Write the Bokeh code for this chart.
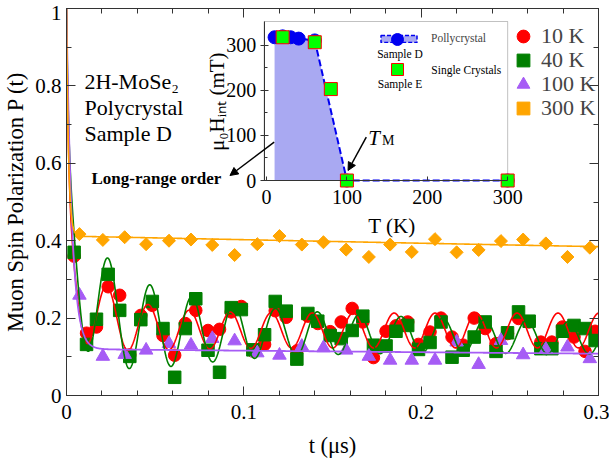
import numpy as np
from bokeh.plotting import figure
from bokeh.models import (Range1d, LinearAxis, FixedTicker, Legend, LegendItem, Label,
                          Arrow, NormalHead, BoxAnnotation)
from bokeh.embed import file_html
from bokeh.resources import INLINE

# ---------------- data: main panel ----------------
# time bins shared by the 10 K and 40 K spectra (us)
t_fine = [0.0043, 0.0113, 0.0169, 0.0235, 0.0300, 0.0357, 0.0419, 0.0484, 0.0544, 0.0610,
          0.0670, 0.0729, 0.0798, 0.0863, 0.0929, 0.0986, 0.1051, 0.1117, 0.1177, 0.1239,
          0.1299, 0.1361, 0.1417, 0.1487, 0.1549, 0.1611, 0.1671, 0.1731, 0.1802, 0.1858,
          0.1924, 0.1985, 0.2050, 0.2112, 0.2174, 0.2237, 0.2299, 0.2361, 0.2422, 0.2487,
          0.2549, 0.2609, 0.2675, 0.2737, 0.2797, 0.2862, 0.2924, 0.2981]
p_10K = [0.360, 0.161, 0.177, 0.281, 0.259, 0.105, 0.207, 0.233, 0.155, 0.104,
         0.186, 0.220, 0.168, 0.171, 0.216, 0.230, 0.115, 0.132, 0.219, 0.202,
         0.115, 0.205, 0.186, 0.165, 0.190, 0.225, 0.190, 0.098, 0.166, 0.180,
         0.190, 0.132, 0.164, 0.200, 0.151, 0.130, 0.200, 0.173, 0.134, 0.160,
         0.199, 0.190, 0.138, 0.138, 0.177, 0.151, 0.114, 0.166]
p_40K = [0.370, 0.132, 0.197, 0.313, 0.220, 0.101, 0.196, 0.243, 0.173, 0.047,
         0.173, 0.250, 0.117, 0.060, 0.227, 0.222, 0.118, 0.157, 0.243, 0.218,
         0.094, 0.212, 0.192, 0.155, 0.147, 0.168, 0.205, 0.130, 0.128, 0.166,
         0.181, 0.119, 0.137, 0.190, 0.099, 0.117, 0.151, 0.190, 0.114, 0.162,
         0.216, 0.192, 0.121, 0.121, 0.166, 0.181, 0.173, 0.142]
# coarser time bins shared by the 100 K and 300 K spectra (us)
t_coarse = [0.0073, 0.0205, 0.0328, 0.0449, 0.0578, 0.0702, 0.0822, 0.0948, 0.1076, 0.1201,
            0.1327, 0.1449, 0.1577, 0.1705, 0.1825, 0.1947, 0.2078, 0.2200, 0.2324, 0.2450,
            0.2575, 0.2703, 0.2825, 0.2951]
p_100K = [0.259, 0.101, 0.106, 0.117, 0.134, 0.130, 0.147, 0.141, 0.110, 0.104,
          0.127, 0.123, 0.117, 0.101, 0.091, 0.091, 0.091, 0.138, 0.080, 0.142,
          0.105, 0.119, 0.125, 0.095]
p_300K = [0.417, 0.402, 0.409, 0.391, 0.400, 0.403, 0.389, 0.363, 0.391, 0.412,
          0.390, 0.396, 0.377, 0.358, 0.390, 0.371, 0.404, 0.370, 0.376, 0.399,
          0.403, 0.393, 0.358, 0.382]

# fit-curve parameters (oscillating fits for 10 K / 40 K, relaxations for 100 K / 300 K)
fit_10K = dict(nu=43.3, m_inf=0.168, m_rate=0.0, dm=0.14, tau_m=0.016, a_inf=0.045, da=0.09, tau_a=0.025, tau_fast=0.0012)
fit_40K = dict(nu=42.4, m_inf=0.172, m_rate=0.5, dm=0.217, tau_m=0.0154, a_inf=0.040, da=0.14, tau_a=0.065, tau_fast=0.0012)
fit_100K = dict(a_fast=0.88, tau_fast=0.0031, a_slow=0.12, rate=0.35)
fit_300K = dict(a_fast=0.588, tau_fast=0.00116, a_slow=0.412, rate=0.23)

series_labels = ["10 K", "40 K", "100 K", "300 K"]

# ---------------- data: inset (internal field vs temperature) ----------------
T_poly = [10, 20, 30, 40, 60, 100, 300]
H_poly = [318, 320, 318, 315, 311, 0, 0]
T_singleE = [20, 60, 80, 100, 300]
H_singleE = [318, 307, 203, 0, 0]

# ---------------- ticks ----------------
x_ticks = [0, 0.1, 0.2, 0.3]
x_tick_labels = ["0", "0.1", "0.2", "0.3"]
y_ticks = [0, 0.2, 0.4, 0.6, 0.8, 1.0]
y_tick_labels = ["0", "0.2", "0.4", "0.6", "0.8", "1"]
inset_ticks = [0, 100, 200, 300]
inset_tick_labels = ["0", "100", "200", "300"]

# ---------------- styling / layout constants ----------------
FONT = "Liberation Serif"
RED, GREEN, PURPLE, ORANGE = "#ff0000", "#007f00", "#a65cf5", "#ffa500"
BLUE, FILL_BLUE, LIME = "#0000f0", "#a9a9f2", "#00ff00"
AX = "#333333"

W, H = 609, 461
FL, FR, FT, FB = 65, 598, 8, 395            # main frame in pixels
IL, IR, IT, IB = 263, 507, 21, 180           # inset box in pixels
T_MIN, T_MAX, H_MIN, H_MAX = -3, 300, 0, 353  # inset data extent
TOP_LABEL_NUDGE = 0.012                      # keeps the "1" label inside the canvas

p = figure(width=W, height=H, x_range=Range1d(0, 0.3), y_range=Range1d(0, 1),
           output_backend="svg", toolbar_location=None,
           min_border_left=FL, min_border_right=W - FR, min_border_top=FT, min_border_bottom=H - FB)
p.grid.visible = False
p.outline_line_color = AX
p.background_fill_color = "white"
p.border_fill_color = "white"


def style_axis(ax, labels=True, size="21px"):
    ax.axis_line_color = AX
    ax.major_tick_line_color = AX
    ax.minor_tick_line_color = AX
    ax.major_tick_in, ax.major_tick_out = 9, 0
    ax.minor_tick_in, ax.minor_tick_out = 5, 0
    ax.major_label_text_font = FONT
    if labels:
        ax.major_label_text_color = "black"
        ax.major_label_text_font_size = size
    else:
        ax.major_label_text_color = None
        ax.major_label_standoff = 0
    ax.axis_label_text_font = FONT
    ax.axis_label_text_font_size = "22.5px"
    ax.axis_label_text_font_style = "normal"
    ax.axis_label_text_color = "black"


x_minor = [round(0.02 * i, 2) for i in range(16)]
y_minor = [round(0.1 * i, 1) for i in range(11)]
xa = p.below[0]
ya = p.left[0]
xa.ticker = FixedTicker(ticks=x_ticks, minor_ticks=x_minor)
xa.major_label_overrides = dict(zip(x_ticks, x_tick_labels))
style_axis(xa)
xa.axis_label = "t (\u03bcs)"
xa.major_label_standoff = 9
xa.axis_label_standoff = 11

# left axis: labels only (the top "1" is nudged just below the frame edge so it stays on the canvas)
label_pos = y_ticks[:-1] + [y_ticks[-1] - TOP_LABEL_NUDGE]
ya.ticker = FixedTicker(ticks=label_pos, minor_ticks=[])
ya.major_label_overrides = dict(zip(label_pos, y_tick_labels))
style_axis(ya)
ya.major_tick_in = 0
ya.minor_tick_in = 0
ya.axis_label = "Muon Spin Polarization P (t)"
ya.major_label_standoff = 5
ya.axis_label_standoff = 4
# left tick marks drawn by a zero-size axis sitting on the frame edge
ya_ticks = LinearAxis(fixed_location=0, ticker=FixedTicker(ticks=y_ticks, minor_ticks=y_minor))
style_axis(ya_ticks, labels=False)
ya_ticks.axis_line_color = None
p.add_layout(ya_ticks, "left")

top = LinearAxis(ticker=FixedTicker(ticks=x_ticks, minor_ticks=x_minor))
style_axis(top, labels=False)
p.add_layout(top, "above")
right = LinearAxis(ticker=FixedTicker(ticks=y_ticks, minor_ticks=y_minor))
style_axis(right, labels=False)
p.add_layout(right, "right")

# ---------------- main data ----------------
r10 = p.scatter(t_fine, p_10K, marker="circle", size=12.5, fill_color=RED, line_color=RED)
r40 = p.scatter(t_fine, p_40K, marker="square", size=12.5, fill_color=GREEN, line_color=GREEN)
r100 = p.scatter(t_coarse, p_100K, marker="triangle", size=13.5, fill_color=PURPLE, line_color=PURPLE)
r300 = p.scatter(t_coarse, p_300K, marker="square", angle=np.pi / 4, size=9.2,
                 fill_color=ORANGE, line_color=ORANGE)

t_fit = np.linspace(0, 0.3, 1501)


def osc_fit(t, nu, m_inf, m_rate, dm, tau_m, a_inf, da, tau_a, tau_fast):
    fast = 1.0 - (m_inf + dm) - (a_inf + da)
    mean = m_inf * np.exp(-m_rate * t) + dm * np.exp(-t / tau_m)
    amp = a_inf + da * np.exp(-t / tau_a)
    return fast * np.exp(-t / tau_fast) + mean + amp * np.cos(2 * np.pi * nu * t)


def relax_fit(t, a_fast, tau_fast, a_slow, rate):
    return a_fast * np.exp(-t / tau_fast) + a_slow * np.exp(-rate * t)


p.line(t_fit, osc_fit(t_fit, **fit_10K), line_color=RED, line_width=1.6)
p.line(t_fit, osc_fit(t_fit, **fit_40K), line_color=GREEN, line_width=1.6)
p.line(t_fit, relax_fit(t_fit, **fit_100K), line_color=PURPLE, line_width=1.8)
p.line(t_fit, relax_fit(t_fit, **fit_300K), line_color=ORANGE, line_width=1.6)

# legend: two interleaved legends so the rows are 24 px apart with 13 px markers
LEG = dict(glyph_width=32, glyph_height=32, spacing=16, label_standoff=2, padding=0, margin=0,
           border_line_color=None, background_fill_alpha=0, label_text_font=FONT,
           label_text_font_size="22px")
main_r = [r10, r40, r100, r300]
leg1 = Legend(items=[LegendItem(label=series_labels[i], renderers=[main_r[i]]) for i in (0, 2)],
              location=(441, 295), **LEG)
leg2 = Legend(items=[LegendItem(label=series_labels[i], renderers=[main_r[i]]) for i in (1, 3)],
              location=(441, 271), **LEG)
p.add_layout(leg1)
p.add_layout(leg2)

# text block
for txt, yy in zip(["2H-MoSe\u2082", "Polycrystal", "Sample D"], [0.811, 0.745, 0.676]):
    p.add_layout(Label(x=0.0101, y=yy, text=txt, text_font=FONT, text_font_size="22px",
                       text_color="black", text_baseline="alphabetic"))
p.add_layout(Label(x=0.0141, y=0.562, text="Long-range order", text_font=FONT, text_font_size="17px",
                   text_font_style="bold", text_color="black", text_baseline="alphabetic"))

# ---------------- inset (drawn in its own ranges inside the main frame) ----------------
sx = (IR - IL) / (T_MAX - T_MIN)
sy = (IB - IT) / (H_MAX - H_MIN)
p.extra_x_ranges = {"ix": Range1d(T_MIN - (IL - FL) / sx, T_MAX + (FR - IR) / sx),
                    "off": Range1d(1000, 2000)}
p.extra_y_ranges = {"iy": Range1d(H_MIN - (FB - IB) / sy, H_MAX + (IT - FT) / sy)}
IN = dict(x_range_name="ix", y_range_name="iy")

p.add_layout(BoxAnnotation(left=T_MIN, right=T_MAX, bottom=H_MIN, top=H_MAX, fill_color="white",
                           fill_alpha=1, line_color=AX, line_width=1, level="underlay", **IN))

T_fill = [T for T in T_poly if T <= 100]
H_fill = [h for T, h in zip(T_poly, H_poly) if T <= 100]
p.varea(x=T_fill, y1=0, y2=H_fill, fill_color=FILL_BLUE, fill_alpha=1, **IN)
p.line(T_poly, H_poly, line_color=BLUE, line_width=2, line_dash="7 3", **IN)
r_poly = p.scatter(T_poly, H_poly, marker="circle", size=13, fill_color=BLUE, line_color=BLUE, **IN)
r_E = p.scatter(T_singleE, H_singleE, marker="square", size=13, fill_color=LIME, line_color=RED,
                line_width=1, **IN)
# legend proxy for the filled-area key (same polygon, mapped outside the frame so only the key shows)
key_box = p.patch(x=T_fill + [T_fill[-1], T_fill[0]], y=H_fill + [0, 0], fill_color=FILL_BLUE,
                  line_color=BLUE, line_width=1.5, line_dash="4 2", x_range_name="off", y_range_name="iy")

iyax = LinearAxis(fixed_location=T_MIN, bounds=(H_MIN, H_MAX),
                  ticker=FixedTicker(ticks=inset_ticks, minor_ticks=[50, 150, 250]), **IN)
style_axis(iyax, size="20px")
iyax.major_tick_in, iyax.major_tick_out = 4, 4
iyax.minor_tick_in, iyax.minor_tick_out = 3, 0
iyax.major_label_overrides = dict(zip(inset_ticks, inset_tick_labels))
iyax.major_label_standoff = 4
p.add_layout(iyax, "left")

ixax = LinearAxis(fixed_location=H_MIN, bounds=(T_MIN, T_MAX),
                  ticker=FixedTicker(ticks=inset_ticks, minor_ticks=[]), **IN)
style_axis(ixax, size="20px")
ixax.major_tick_in, ixax.major_tick_out = 4, 0
ixax.major_label_overrides = dict(zip(inset_ticks, inset_tick_labels))
ixax.major_label_standoff = 9
p.add_layout(ixax, "below")

p.add_layout(Label(x=156, y=-102, text="T (K)", text_font=FONT, text_font_size="21px",
                   text_color="black", text_align="center", text_baseline="middle", **IN))
p.add_layout(Label(x=-62, y=175, text="\u03bc\u2080H\u1d62\u2099\u209c (mT)", angle=np.pi / 2,
                   text_font=FONT, text_font_size="21px", text_color="black",
                   text_align="center", text_baseline="middle", **IN))

# inset legend
leg_box = Legend(items=[LegendItem(label="Pollycrystal", renderers=[key_box])],
                 location=(375 - FL, FB - 44), glyph_width=45, glyph_height=9, label_standoff=10,
                 padding=0, margin=0, border_line_color=None, background_fill_alpha=0,
                 label_text_font=FONT, label_text_font_size="11.5px", label_height=9)
p.add_layout(leg_box)
leg_mark = Legend(items=[LegendItem(label=" ", renderers=[r_poly]), LegendItem(label=" ", renderers=[r_E])],
                  location=(381 - FL, 311), glyph_width=30, glyph_height=30, spacing=0, label_standoff=0,
                  padding=0, margin=0, border_line_color=None, background_fill_alpha=0,
                  label_text_font=FONT, label_text_font_size="11.5px")
p.add_layout(leg_mark)
for txt, xx, yy, al in [("Sample D", 166, 280, "center"), ("Sample E", 166, 215, "center"),
                        ("Single Crystals", 205, 246, "left")]:
    p.add_layout(Label(x=xx, y=yy, text=txt, text_font=FONT, text_font_size="11.5px",
                       text_color="black", text_align=al, text_baseline="middle", **IN))

# T_M annotation and arrows
p.add_layout(Label(x=126.6, y=95, text="T", text_font=FONT, text_font_size="21px", text_font_style="italic",
                   text_color="black", text_baseline="alphabetic", **IN))
p.add_layout(Label(x=143.5, y=89, text="M", text_font=FONT, text_font_size="14px",
                   text_color="black", text_baseline="alphabetic", **IN))
p.add_layout(Arrow(end=NormalHead(size=8, fill_color="black", line_color="black"),
                   x_start=124.1, y_start=96.1, x_end=101.4, y_end=22.2,
                   line_color="black", line_width=1.5, **IN))
p.add_layout(Arrow(end=NormalHead(size=8, fill_color="black", line_color="black"),
                   x_start=9.5, y_start=85, x_end=-45.5, y_end=11.1,
                   line_color="black", line_width=1.5, **IN))

open("out.html", "w").write(file_html(p, INLINE))
